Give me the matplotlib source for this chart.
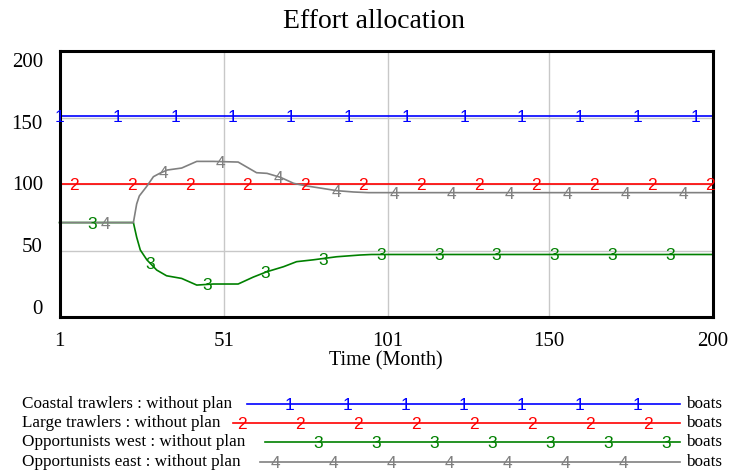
import numpy as np
import matplotlib
matplotlib.use("Agg")
import matplotlib.pyplot as plt
from matplotlib.lines import Line2D
from matplotlib.transforms import ScaledTranslation

# ---------------- data ----------------
time_start, time_end = 1, 200
coastal_t = [1, 200]
coastal_v = [151, 151]
large_t = [1, 200]
large_v = [100, 100]
west_t = [1, 23.5, 24.5, 25.6, 27.6, 30.6, 33.6, 38.2, 42.8, 47.8, 55.4, 60, 64.1,
          69.2, 73.2, 78.3, 85.4, 92.5, 96, 200]
west_v = [71, 71, 60, 50.4, 43, 35.3, 31, 29, 24, 24.8, 24.8, 30, 34,
          37.8, 41.6, 43, 45.3, 46.6, 47, 47]
east_t = [1, 23.5, 24.5, 25.3, 27.5, 29.6, 31.5, 33.8, 38.2, 42.8, 47.8, 55.4, 61,
          64.2, 68.3, 72.3, 76.3, 80.3, 85.4, 90.5, 95, 200]
east_v = [71, 71, 85, 91, 98, 105.5, 108, 110.5, 112, 117, 117, 116.5, 108.5,
          108, 105, 100.5, 98.5, 97, 95, 94, 93.5, 93.5]

series_names = ["Coastal trawlers : without plan", "Large trawlers : without plan",
                "Opportunists west : without plan", "Opportunists east : without plan"]
series_units = ["boats", "boats", "boats", "boats"]
series_ids = ["1", "2", "3", "4"]
colors = ["#0000ff", "#ff0000", "#008000", "#808080"]
x_ticks = [1, 51, 101, 150, 200]
y_ticks = [0, 50, 100, 150, 200]
# marker label start times along each curve
marker_start = [1, 5.4, 10.9, 14.9]
marker_step = 17.6

W, H = 734, 474
fig = plt.figure(figsize=(W / 100, H / 100), dpi=100)
serif = ["Liberation Serif", "DejaVu Serif"]
sans = ["Liberation Sans", "DejaVu Sans"]
mk_size = 12.5

left, right, top, bottom = 59.5, 713, 51, 317
ax = fig.add_axes([left / W, 1 - bottom / H, (right - left) / W, (bottom - top) / H])
ax.set_xlim(time_start, time_end)
ax.set_ylim(0, 200)

for xv in [51, 101, 150]:
    ax.axvline(xv, color="#c8c8c8", lw=1, zorder=0)
for yv in [50, 100, 150]:
    ax.axhline(yv, color="#c8c8c8", lw=1, zorder=0)

data = [(coastal_t, coastal_v), (large_t, large_v), (west_t, west_v), (east_t, east_v)]
draw_order = [0, 1, 3, 2]
for i in draw_order:
    t, v = data[i]
    ax.plot(t, v, color=colors[i], lw=1.2, zorder=2 + i * 0.1, clip_on=False)
    mt = np.arange(marker_start[i], time_end + 0.5, marker_step)
    mv = np.interp(mt, t, v)
    for a, b in zip(mt, mv):
        ax.text(a, b, series_ids[i], color=colors[i], fontsize=mk_size, family=sans,
                ha="center", va="center_baseline", zorder=3)

ax.set_xticks(x_ticks)
ax.set_xticklabels([str(x) for x in x_ticks], family=serif, fontsize=15)
ax.set_yticks(y_ticks)
ax.set_yticklabels([str(y) for y in y_ticks], family=serif, fontsize=15)
ax.tick_params(axis="both", length=0)
ax.tick_params(axis="x", pad=11)
ax.tick_params(axis="y", pad=12)
# Vensim-like compressed placement of the value labels (pixel offsets)
y_label_shift = [10, 5.5, 1, -4.5, -9]
for lab, dy in zip(ax.get_yticklabels(), y_label_shift):
    lab.set_transform(lab.get_transform() + ScaledTranslation(0, dy / 100, fig.dpi_scale_trans))
for s in ax.spines.values():
    s.set_linewidth(2.2)
    s.set_color("black")
ax.set_xlabel("Time (Month)", family=serif, fontsize=14.5, labelpad=0)
fig.text(374 / W, 1 - 21 / H, "Effort allocation", family=serif, fontsize=20,
         ha="center", va="center")

# ---------------- legend ----------------
lg = fig.add_axes([0, 0, 1, 1], facecolor="none")
lg.set_xlim(0, W)
lg.set_ylim(H, 0)
lg.axis("off")
leg_y = [404, 423, 442, 462]
leg_x0 = [247, 233, 265, 260]
leg_m0 = [289, 242, 318, 275]
leg_nm = [7, 8, 7, 7]
leg_x1 = 680
for i in range(4):
    y = leg_y[i]
    lg.text(22, y, series_names[i], family=serif, fontsize=12.3, ha="left", va="center")
    lg.add_line(Line2D([leg_x0[i], leg_x1], [y, y], color=colors[i], lw=1.2))
    for k in range(leg_nm[i]):
        lg.text(leg_m0[i] + k * 58, y, series_ids[i], color=colors[i], fontsize=mk_size,
                family=sans, ha="center", va="center_baseline")
    lg.text(686, y, series_units[i], family=serif, fontsize=12.3, ha="left", va="center")

fig.savefig("out.png", dpi=100)
